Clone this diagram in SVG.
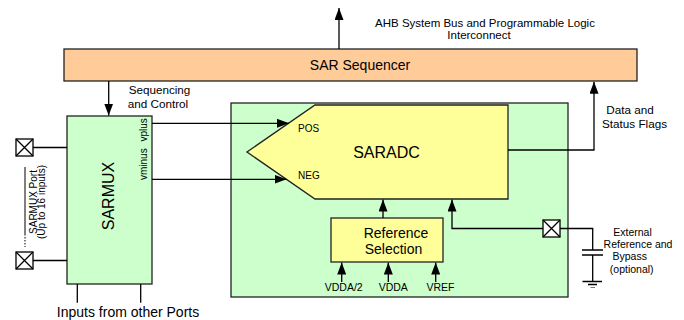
<svg xmlns="http://www.w3.org/2000/svg" width="684" height="320" viewBox="0 0 684 320">
<defs>
<marker id="ah" markerUnits="userSpaceOnUse" markerWidth="12" markerHeight="9" refX="12" refY="4.5" orient="auto">
<path d="M0,0 L12,4.5 L0,9 z" fill="#000"/>
</marker>
<style>
text{font-family:"Liberation Sans",Arial,sans-serif;fill:#000}
.box{stroke:#222;stroke-width:1.3}
.ln{stroke:#000;stroke-width:1.3;fill:none}
.arr{stroke:#000;stroke-width:1.3;fill:none;marker-end:url(#ah)}
.port{fill:#fff;stroke:#000;stroke-width:1.3}
</style>
</defs>
<rect width="684" height="320" fill="#fff"/>

<g id="sequencer">
<rect class="box" x="64" y="49" width="573" height="32" fill="#FFCC99"/>
<text x="360" y="70" font-size="14" text-anchor="middle">SAR Sequencer</text>
</g>

<g id="adc-block">
<rect class="box" x="231" y="103" width="337" height="194" fill="#CCFFCC"/>
</g>

<g id="saradc">
<polygon class="box" points="315,105 508,105 508,199 315,199 247,152" fill="#FFFF99"/>
<text x="386.5" y="158" font-size="16" text-anchor="middle">SARADC</text>
<text x="298" y="131.5" font-size="10">POS</text>
<text x="298" y="178.5" font-size="10">NEG</text>
</g>

<g id="refsel">
<rect class="box" x="331" y="218" width="112" height="44" fill="#FFFF99"/>
<text x="396" y="237.5" font-size="14" text-anchor="middle">Reference</text>
<text x="393.5" y="253.5" font-size="14" text-anchor="middle">Selection</text>
</g>

<g id="sarmux">
<rect class="box" x="67" y="116" width="85" height="168" fill="#CCFFCC"/>
<text transform="translate(114,196) rotate(-90)" font-size="16" text-anchor="middle">SARMUX</text>
<text transform="translate(146.5,141.5) rotate(-90)" font-size="10">vplus</text>
<text transform="translate(146.5,180) rotate(-90)" font-size="10">vminus</text>
</g>

<g id="port-top">
<rect class="port" x="16" y="139" width="17" height="17"/>
<path class="ln" d="M16,139 L33,156 M33,139 L16,156"/>
</g>
<g id="port-bottom">
<rect class="port" x="16" y="252" width="17" height="17"/>
<path class="ln" d="M16,252 L33,269 M33,252 L16,269"/>
</g>
<g id="port-label">
<line x1="25" y1="167" x2="25" y2="234" stroke="#000" stroke-width="1"/>
<line x1="25" y1="234" x2="25" y2="247" stroke="#000" stroke-width="1" stroke-dasharray="1.5,1.5"/>
<text transform="translate(37,202) rotate(-90)" font-size="10" text-anchor="middle">SARMUX Port</text>
<text transform="translate(45,202) rotate(-90)" font-size="10" text-anchor="middle">(Up to 16 inputs)</text>
</g>

<g id="port-ext">
<rect class="port" x="543" y="220" width="17" height="17"/>
<path class="ln" d="M543,220 L560,237 M560,220 L543,237"/>
</g>

<g id="capacitor">
<path class="ln" d="M582,250 H603 M582,255 H603 M592.7,255 V281.5 M582.5,281.5 H602 M588,284.5 H597"/>
<line x1="590.5" y1="287.5" x2="595" y2="287.5" stroke="#777" stroke-width="1"/>
</g>

<g id="connectors">
<line class="arr" x1="339" y1="49" x2="339" y2="8"/>
<line class="arr" x1="108.7" y1="81" x2="108.7" y2="115.5"/>
<line class="arr" x1="152" y1="123.3" x2="289" y2="123.3"/>
<line class="arr" x1="152" y1="179.3" x2="286.5" y2="179.3"/>
<polyline class="arr" points="508,150 594,150 594,81.7"/>
<line class="arr" x1="383" y1="218" x2="383" y2="199.5"/>
<polyline class="arr" points="543,228.5 452,228.5 452,199.5"/>
<path class="ln" d="M560,228.5 H592.7 V250"/>
<line class="arr" x1="341.7" y1="282" x2="341.7" y2="262.5"/>
<line class="arr" x1="388.3" y1="282" x2="388.3" y2="262.5"/>
<line class="arr" x1="435.7" y1="282" x2="435.7" y2="262.5"/>
<path class="ln" d="M33,147.5 H67 M33,260.5 H67 M77.3,284 V302.7 M140.7,284 V302.7"/>
</g>

<g id="labels">
<text x="485" y="27" font-size="11.5" text-anchor="middle">AHB System Bus and Programmable Logic</text>
<text x="479" y="39.3" font-size="11.5" text-anchor="middle">Interconnect</text>
<text x="159.5" y="94.3" font-size="11.7" text-anchor="middle">Sequencing</text>
<text x="158" y="108.3" font-size="11.7" text-anchor="middle">and Control</text>
<text x="630" y="114" font-size="11.7" text-anchor="middle">Data and</text>
<text x="634.5" y="128.3" font-size="11.7" text-anchor="middle">Status Flags</text>
<text x="128" y="317" font-size="14" text-anchor="middle">Inputs from other Ports</text>
<text x="343.7" y="290.7" font-size="10.5" text-anchor="middle">VDDA/2</text>
<text x="393.3" y="290.7" font-size="10.5" text-anchor="middle">VDDA</text>
<text x="440.5" y="290.7" font-size="10.5" text-anchor="middle">VREF</text>
<text x="632.5" y="236" font-size="10.5" text-anchor="middle">External</text>
<text x="638" y="248.3" font-size="10.5" text-anchor="middle">Reference and</text>
<text x="629.7" y="260" font-size="10.5" text-anchor="middle">Bypass</text>
<text x="631.7" y="272.7" font-size="10.5" text-anchor="middle">(optional)</text>
</g>
</svg>
